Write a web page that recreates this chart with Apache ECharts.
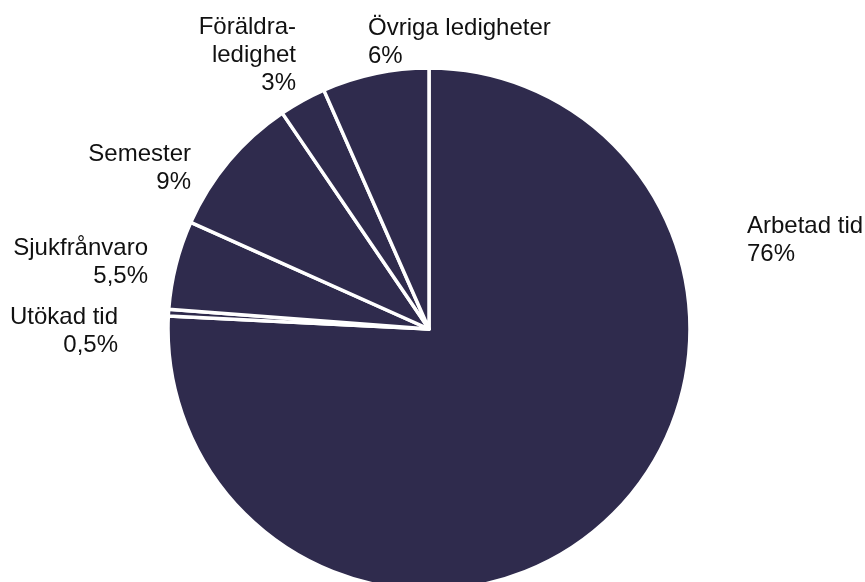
<!DOCTYPE html>
<html>
<head>
<meta charset="utf-8">
<script src="https://cdn.jsdelivr.net/npm/echarts@6/dist/echarts.min.js"></script>
<style>
  html, body { margin: 0; padding: 0; background: #ffffff; }
  #chart { width: 865px; height: 582px; }
</style>
</head>
<body>
<div id="chart"></div>
<script>
// Data (clockwise from 12 o'clock)
const categories = ['Arbetad tid', 'Utökad tid', 'Sjukfrånvaro', 'Semester', 'Föräldra-\nledighet', 'Övriga ledigheter'];
const values = [75.8, 0.4, 5.5, 8.8, 2.9, 6.6];
const percentLabels = ['76%', '0,5%', '5,5%', '9%', '3%', '6%'];

// Label placement (layout, not data)
const labelPlacement = [
  { x: 747, y: 212, align: 'left' },
  { x: 118, y: 303, align: 'right' },
  { x: 148, y: 234, align: 'right' },
  { x: 191, y: 140, align: 'right' },
  { x: 296, y: 13, align: 'right' },
  { x: 368, y: 14, align: 'left' }
];

const chart = echarts.init(document.getElementById('chart'), null, { renderer: 'canvas' });
chart.setOption({
  animation: false,
  backgroundColor: '#ffffff',
  series: [{
    type: 'pie',
    center: [429, 329],
    radius: 261,
    startAngle: 90,
    clockwise: true,
    avoidLabelOverlap: false,
    data: categories.map((name, i) => ({ name: name, value: values[i] })),
    itemStyle: { color: '#2f2b4d', borderColor: '#ffffff', borderWidth: 3.5 },
    label: {
      show: true,
      position: 'outside',
      formatter: p => p.name + '\n' + percentLabels[p.dataIndex],
      fontFamily: 'Liberation Sans, Arial, sans-serif',
      fontSize: 24,
      lineHeight: 28,
      color: '#111111'
    },
    labelLine: { show: false },
    labelLayout: function (params) {
      const pl = labelPlacement[params.dataIndex];
      return { x: pl.x, y: pl.y, align: pl.align, verticalAlign: 'top' };
    },
    emphasis: { disabled: true }
  }]
});
</script>
</body>
</html>
